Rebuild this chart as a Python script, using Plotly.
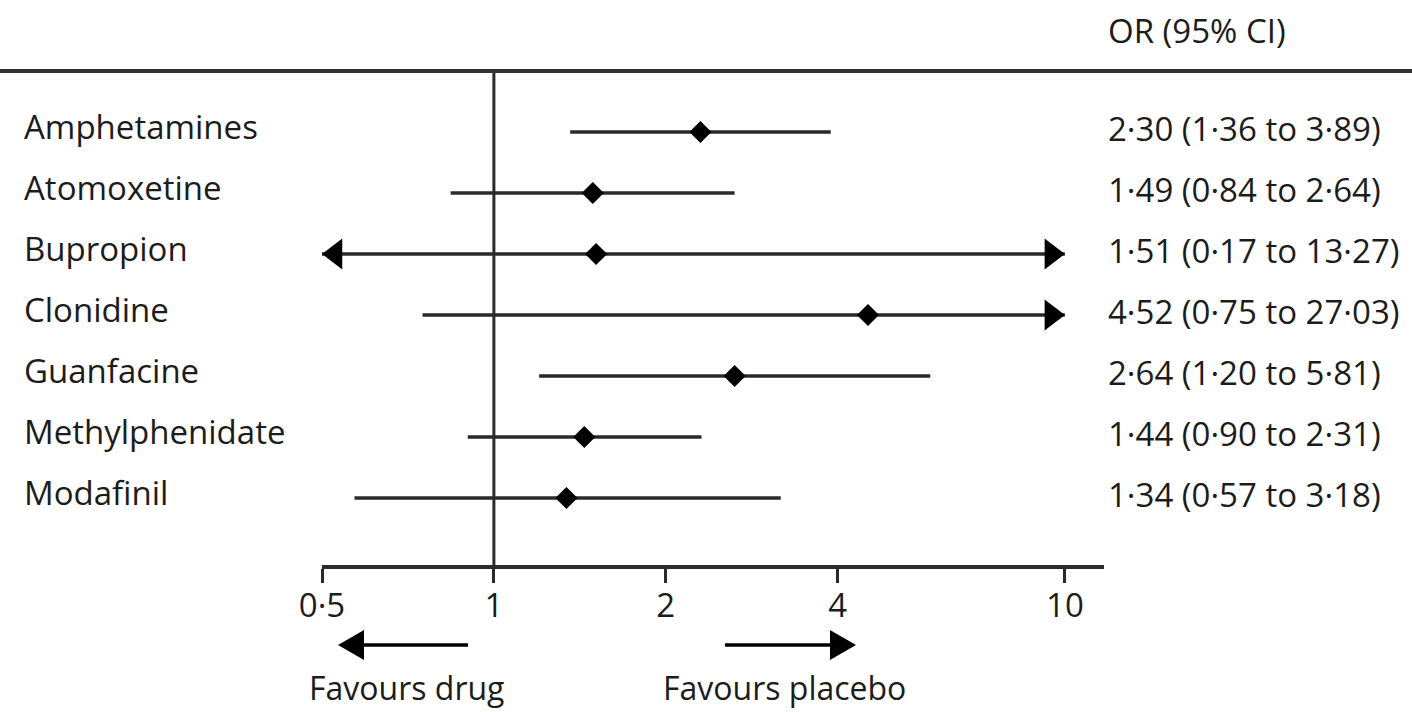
import math
import plotly.graph_objects as go

# ---------------- data ----------------
drugs = ["Amphetamines", "Atomoxetine", "Bupropion", "Clonidine",
         "Guanfacine", "Methylphenidate", "Modafinil"]
or_values = [2.30, 1.49, 1.51, 4.52, 2.64, 1.44, 1.34]
ci_lower = [1.36, 0.84, 0.17, 0.75, 1.20, 0.90, 0.57]
ci_upper = [3.89, 2.64, 13.27, 27.03, 5.81, 2.31, 3.18]
or_labels = ["2·30 (1·36 to 3·89)", "1·49 (0·84 to 2·64)", "1·51 (0·17 to 13·27)",
             "4·52 (0·75 to 27·03)", "2·64 (1·20 to 5·81)", "1·44 (0·90 to 2·31)",
             "1·34 (0·57 to 3·18)"]
tick_values = [0.5, 1, 2, 4, 10]
tick_labels = ["0·5", "1", "2", "4", "10"]
header = "OR (95% CI)"
favours_left = "Favours drug"
favours_right = "Favours placebo"
display_min = 0.5
display_max = 10

# ---------------- layout geometry ----------------
W, H = 1412, 712
PLOT_L, PLOT_R, PLOT_T, PLOT_B = 322, 1104, 71, 565
PX_PER_DEC = 571.0
ROW0, ROW_STEP = 132, 61
FONT = "Open Sans"
FS = 33
INK = "#1c1c1c"
LINE = "#2a2a2a"

x_range = [math.log10(display_min), math.log10(display_min) + (PLOT_R - PLOT_L) / PX_PER_DEC]
y_range = [(PLOT_B - ROW0) / ROW_STEP, (PLOT_T - ROW0) / ROW_STEP]


def px(x):
    return x / W


def py(y):
    return 1 - y / H


fig = go.Figure()

rows = list(range(len(drugs)))
tri_size = 27
tri_r = tri_size / 2.0
tri_off = tri_r / PX_PER_DEC  # decades between tip and marker centre

left_x, left_y, right_x, right_y = [], [], [], []
for i in rows:
    lo = max(ci_lower[i], display_min)
    hi = min(ci_upper[i], display_max)
    fig.add_trace(go.Scatter(x=[lo, hi], y=[i, i], mode="lines",
                             line=dict(color=LINE, width=3.5),
                             hoverinfo="skip", showlegend=False, cliponaxis=False))
    if ci_lower[i] < display_min:
        left_x.append(10 ** (math.log10(display_min) + tri_off))
        left_y.append(i)
    if ci_upper[i] > display_max:
        right_x.append(10 ** (math.log10(display_max) - tri_off))
        right_y.append(i)

fig.add_trace(go.Scatter(x=left_x, y=left_y, mode="markers",
                         marker=dict(symbol="triangle-left", size=tri_size, color="black",
                                     line=dict(width=0)),
                         hoverinfo="skip", showlegend=False, cliponaxis=False))
fig.add_trace(go.Scatter(x=right_x, y=right_y, mode="markers",
                         marker=dict(symbol="triangle-right", size=tri_size, color="black",
                                     line=dict(width=0)),
                         hoverinfo="skip", showlegend=False, cliponaxis=False))
fig.add_trace(go.Scatter(x=or_values, y=rows, mode="markers",
                         marker=dict(symbol="diamond", size=17, color="black",
                                     line=dict(width=0)),
                         hoverinfo="skip", showlegend=False, cliponaxis=False))

shapes = []
# null line at OR = 1
shapes.append(dict(type="line", xref="x", yref="y domain", x0=1, x1=1, y0=0, y1=1,
                   line=dict(color=LINE, width=3)))
# top rule
shapes.append(dict(type="line", xref="paper", yref="paper", x0=0, x1=1,
                   y0=py(71), y1=py(71), line=dict(color="#333333", width=4)))

# favours arrows (decorations below axis)
AY = 645
shapes.append(dict(type="line", xref="paper", yref="paper", x0=px(355), x1=px(468),
                   y0=py(AY), y1=py(AY), line=dict(color="black", width=3.5)))
shapes.append(dict(type="path", xref="paper", yref="paper",
                   path=f"M {px(338)},{py(AY)} L {px(364)},{py(AY-15)} L {px(364)},{py(AY+15)} Z",
                   fillcolor="black", line=dict(width=0)))
shapes.append(dict(type="line", xref="paper", yref="paper", x0=px(725), x1=px(838),
                   y0=py(AY), y1=py(AY), line=dict(color="black", width=3.5)))
shapes.append(dict(type="path", xref="paper", yref="paper",
                   path=f"M {px(856)},{py(AY)} L {px(830)},{py(AY-15)} L {px(830)},{py(AY+15)} Z",
                   fillcolor="black", line=dict(width=0)))

annotations = []
for i in rows:
    annotations.append(dict(text=drugs[i], xref="paper", yref="y", x=px(22), y=i,
                            xanchor="left", yanchor="middle", yshift=6, showarrow=False,
                            font=dict(family=FONT, size=FS, color=INK)))
    annotations.append(dict(text=or_labels[i], xref="paper", yref="y", x=px(1106), y=i,
                            xanchor="left", yanchor="middle", yshift=4, showarrow=False,
                            font=dict(family=FONT, size=FS, color=INK)))
annotations.append(dict(text=header, xref="paper", yref="paper", x=px(1106), y=py(31),
                        xanchor="left", yanchor="middle", showarrow=False,
                        font=dict(family=FONT, size=FS, color=INK)))
annotations.append(dict(text=favours_left, xref="paper", yref="paper", x=px(406), y=py(687),
                        xanchor="center", yanchor="middle", showarrow=False,
                        font=dict(family=FONT, size=FS - 1, color=INK)))
annotations.append(dict(text=favours_right, xref="paper", yref="paper", x=px(784), y=py(687),
                        xanchor="center", yanchor="middle", showarrow=False,
                        font=dict(family=FONT, size=FS - 1, color=INK)))

fig.update_layout(
    template="none",
    width=W, height=H,
    margin=dict(l=0, r=0, t=0, b=0, pad=0, autoexpand=False),
    paper_bgcolor="white", plot_bgcolor="white",
    showlegend=False,
    hovermode=False,
    shapes=shapes,
    annotations=annotations,
    xaxis=dict(type="log", domain=[PLOT_L / W, PLOT_R / W], range=x_range,
               tickvals=tick_values, ticktext=tick_labels, automargin=False,
               showline=True, linecolor=LINE, linewidth=3.5,
               ticks="outside", ticklen=14, tickwidth=3, tickcolor=LINE,
               ticklabelstandoff=-5,
               showgrid=False, zeroline=False,
               tickfont=dict(family=FONT, size=FS, color=INK)),
    yaxis=dict(domain=[1 - PLOT_B / H, 1 - PLOT_T / H], range=y_range, automargin=False,
               showticklabels=False, showgrid=False, zeroline=False, showline=False,
               ticks=""),
)

fig.write_html("out.html", config={"displayModeBar": False},
               post_script="document.body.style.margin='0';document.body.style.padding='0';"
                           "document.documentElement.style.overflow='hidden';"
                           "document.body.style.overflow='hidden';")
